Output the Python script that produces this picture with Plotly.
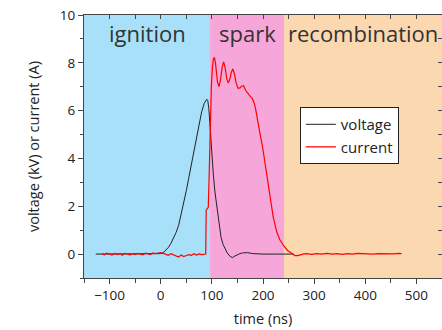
import plotly.graph_objects as go

# ---------------- data ----------------
volt_t = [-127, -100, -50, -20, 0, 5, 10, 15, 20, 25, 30, 35, 40, 45, 50, 55, 60, 65, 70, 75, 80, 85, 88, 90,
          92, 94, 96, 98, 100, 103, 106, 110, 114, 118, 122, 126, 130, 135, 140, 145, 150, 155, 160, 165,
          170, 180, 190, 200, 220, 240, 260]
volt_v = [0, 0, 0, 0, 0.02, 0.06, 0.15, 0.28, 0.45, 0.65, 0.9, 1.2, 1.65, 2.15, 2.65, 3.2, 3.75, 4.4, 5.0, 5.55,
          5.95, 6.3, 6.45, 6.48, 6.42, 6.1, 5.5, 4.76, 4.1, 3.3, 2.6, 1.9, 1.15, 0.7, 0.4, 0.2, 0.05, -0.08,
          -0.15, -0.08, -0.02, 0.02, 0.05, 0.07, 0.06, 0.02, 0.0, 0.0, 0.0, 0.0, 0.0]

curr_t = [-115, -110, -105, -100, -95, -90, -85, -80, -75, -70, -65, -60, -55, -50, -45, -40, -35, -30, -25,
          -20, -15, -10, -5, 0, 5, 10, 15, 20, 25, 30, 35, 40, 45, 50, 55, 60, 65, 70, 75, 80, 85,
          88, 89, 93, 95, 97, 99, 101, 103, 105, 107, 109, 111, 114, 117, 120, 123, 126, 129, 132, 135, 138,
          141, 144, 147, 151, 155, 158, 162, 166, 171, 175, 179, 183, 186, 190, 194, 199, 204, 209, 214, 220,
          227, 233, 240, 248, 256, 262, 268, 272, 278, 285, 295, 305, 315, 325, 335, 345, 355, 365, 375, 385,
          395, 405, 415, 425, 435, 445, 455, 465, 471]
curr_v = [0.02, -0.03, 0.04, 0.0, -0.04, 0.03, -0.02, 0.02, -0.05, 0.03, 0.0, -0.03, 0.02, -0.02, 0.03, 0.0,
          -0.03, 0.04, 0.01, -0.02, 0.05, 0.02, 0.04, 0.06, 0.03, -0.02, -0.05, 0.02, -0.03, -0.08, -0.12, -0.04,
          -0.1, -0.06, -0.02, -0.05, 0.02, -0.04, 0.01, -0.02, 0.0,
          0.0, 1.85, 1.95, 3.5, 5.5, 7.0, 7.8, 8.15, 8.23, 8.0, 7.6, 7.2, 7.0, 7.3, 7.8, 8.04, 7.8, 7.35, 7.16,
          7.3, 7.6, 7.74, 7.55, 7.2, 6.93, 6.95, 7.02, 7.04, 6.85, 6.68, 6.6, 6.51, 6.3, 6.02, 5.6, 5.05, 4.5,
          3.8, 3.0, 2.32, 1.55, 0.92, 0.6, 0.36, 0.15, 0.04, -0.06, -0.06, -0.03, 0.0, 0.02, -0.01, 0.02, 0.0,
          0.03, 0.0, 0.02, -0.01, 0.02, 0.0, 0.03, 0.01, 0.02, 0.0, 0.02, 0.01, 0.03, 0.01, 0.03, 0.02]

phase_names = ["ignition", "spark", "recombination"]
phase_bounds = [-150, 96.5, 241, 550]
phase_colors = ["#a7e0f8", "#f6a6d8", "#fbd8b0"]

x_range = [-150, 550]
y_range = [-1, 10]

# ---------------- figure ----------------
fig = go.Figure()

for i, name in enumerate(phase_names):
    fig.add_vrect(x0=phase_bounds[i], x1=phase_bounds[i + 1], fillcolor=phase_colors[i],
                  opacity=1, line_width=0, layer="below")
    fig.add_annotation(x=(phase_bounds[i] + phase_bounds[i + 1]) / 2, y=9.25, text=name,
                       showarrow=False, yanchor="middle",
                       font=dict(size=22, color="#333333", family="Open Sans"))

fig.add_trace(go.Scatter(x=volt_t, y=volt_v, mode="lines", name="voltage",
                         line=dict(color="#222222", width=1)))
fig.add_trace(go.Scatter(x=curr_t, y=curr_v, mode="lines", name="current",
                         line=dict(color="#ff0000", width=1.2)))

# invisible trace to host mirror axes
fig.add_trace(go.Scatter(x=[], y=[], xaxis="x2", yaxis="y2", showlegend=False))

axis_font = dict(family="Open Sans", size=13.5, color="#222222")
title_font = dict(family="Open Sans", size=14.5, color="#222222")
fig.update_layout(
    width=442, height=330,
    margin=dict(l=84, r=0, t=15, b=52),
    paper_bgcolor="white", plot_bgcolor="white",
    font=axis_font,
    showlegend=True,
    legend=dict(x=0.603, y=0.65, xanchor="left", yanchor="top", bgcolor="white",
                bordercolor="#222222", borderwidth=1,
                font=dict(size=15, family="Open Sans", color="#222222"),
                tracegroupgap=0, itemwidth=30),
    xaxis=dict(range=x_range, dtick=100, tick0=0, ticks="outside", ticklen=5, tickcolor="#444444",
               showline=True, linecolor="#444444", linewidth=1, showgrid=False, zeroline=False,
               minor=dict(dtick=50, tick0=0, ticks="outside", ticklen=4, tickcolor="#444444"),
               title=dict(text="time (ns)", standoff=10, font=title_font),
               tickfont=axis_font),
    yaxis=dict(range=y_range, dtick=2, tick0=0, ticks="outside", ticklen=5, tickcolor="#444444",
               showline=True, linecolor="#444444", linewidth=1, showgrid=False, zeroline=False,
               minor=dict(dtick=1, tick0=0, ticks="outside", ticklen=3, tickcolor="#444444"),
               title=dict(text="voltage (kV) or current (A)", standoff=16, font=title_font),
               tickfont=axis_font),
    xaxis2=dict(range=x_range, overlaying="x", side="top", dtick=50, tick0=0, ticks="inside", ticklen=4,
                tickcolor="#444444", showticklabels=False, showline=True, linecolor="#444444",
                linewidth=1, showgrid=False, zeroline=False),
    yaxis2=dict(range=y_range, overlaying="y", side="right", dtick=1, tick0=0, ticks="inside", ticklen=4,
                tickcolor="#444444", showticklabels=False, showline=True, linecolor="#444444",
                linewidth=1, showgrid=False, zeroline=False),
)

fig.write_html("out.html")
